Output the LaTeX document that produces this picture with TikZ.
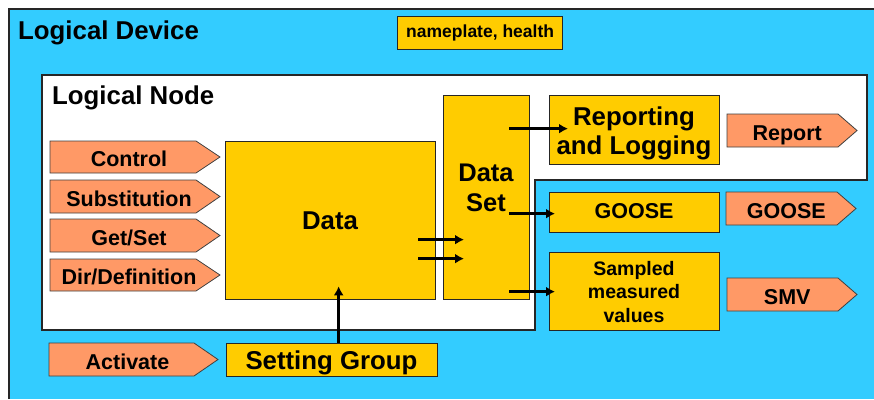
\documentclass[tikz,border=0pt]{standalone}
\usepackage{fontspec}
\setmainfont{Liberation Sans}
\usetikzlibrary{arrows.meta}
\definecolor{ldblue}{HTML}{33CCFF}
\definecolor{boxyel}{HTML}{FFCC00}
\definecolor{sigsal}{HTML}{FF9966}
\tikzset{
  ybox/.style={draw=black!85, line width=1.3pt, fill=boxyel, inner sep=0pt, anchor=north west, align=center},
  sigshape/.style={draw=black!75, line width=0.8pt, fill=sigsal},
  sigtext/.style={font={\bfseries\fontsize{21.5}{24}\selectfont}, inner sep=0pt, anchor=base},
  flow/.style={line width=2.8pt, -{Latex[length=9pt,width=10pt]}},
  fbig/.style={font={\bfseries\fontsize{25.8}{29}\selectfont}},
  fmid/.style={font={\bfseries\fontsize{21.5}{24}\selectfont}},
}
% name, x1, y1, x2, y2, tip, text
\newcommand\sigarrow[7]{%
  \draw[sigshape] (#2,#3) -- ({#4-#6},#3) -- (#4,{(#3+#5)/2}) -- ({#4-#6},#5) -- (#2,#5) -- cycle;
  \node[sigtext] (#1) at ({(#2+#4)/2-#6/4},{(#3+#5)/2+9.7}) {#7};
}
\begin{document}
\begin{tikzpicture}[x=1pt,y=-1pt]
\useasboundingbox (0,0) rectangle (874,399);
% Logical Device
\fill[ldblue] (9,9) rectangle (874,399);
\draw[line width=2pt, black!85] (9,399) -- (9,9) -- (874,9);
\node[fbig, anchor=base west, inner sep=0pt] (ldtitle) at (18,39) {Logical Device};
\node[ybox, minimum width=165pt, minimum height=33pt, font={\bfseries\fontsize{17.5}{20}\selectfont}] (np) at (397,16) {nameplate, health};
% Logical Node
\filldraw[fill=white, draw=black!85, line width=1.5pt] (42,75) -- (867,75) -- (867,180) -- (535,180) -- (535,330) -- (42,330) -- cycle;
\node[fbig, anchor=base west, inner sep=0pt] (lntitle) at (52,104) {Logical Node};
% boxes
\node[ybox, minimum width=210pt, minimum height=158pt] (data) at (225,141) {};
\node[fbig, inner sep=0pt] (datatxt) at (330,221) {Data};
\node[ybox, minimum width=86pt, minimum height=204pt] (ds) at (443,95) {};
\node[fbig, inner sep=0pt, align=center, font={\bfseries\fontsize{25.5}{30}\selectfont}] (dstxt) at (486,188) {Data\\Set};
\node[ybox, minimum width=170pt, minimum height=69pt] (rl) at (549,95) {};
\node[fbig, inner sep=0pt, align=center] (rltxt) at (634,133) {Reporting\\and Logging};
\node[ybox, minimum width=170pt, minimum height=40pt] (goose) at (549,192) {};
\node[fmid, inner sep=0pt, anchor=base] (goosetxt) at (634,218.5) {GOOSE};
\node[ybox, minimum width=170pt, minimum height=78pt] (smv) at (549,252) {};
\node[inner sep=0pt, align=center, font={\bfseries\fontsize{19.5}{23.5}\selectfont}] (smvtxt) at (634,292) {Sampled\\measured\\values};
\node[ybox, minimum width=211pt, minimum height=33pt] (sg) at (226,343) {};
\node[fbig, inner sep=0pt, anchor=base] (sgtxt) at (331.5,369) {Setting Group};
% signal arrows
\sigarrow{sctl}{50}{141}{220}{173}{24}{Control}
\sigarrow{ssub}{50}{180}{220}{213}{24}{Substitution}
\sigarrow{sget}{50}{219}{220}{252}{24}{Get/Set}
\sigarrow{sdir}{50}{259}{220}{291}{24}{Dir/Definition}
\sigarrow{sact}{49}{343}{218}{376}{24}{Activate}
\sigarrow{srep}{727}{114}{857}{147}{19}{Report}
\sigarrow{sgoo}{726}{192}{856}{225}{19}{GOOSE}
\sigarrow{ssmv}{727}{278}{857}{311}{19}{SMV}
% connectors
\coordinate (sgtop) at ([xshift=6.5pt]sg.north);
\draw[flow] (sgtop) -- ([yshift=14pt]sgtop |- data.south);
\coordinate (a1) at ([shift={(-18,19)}]data.east);
\coordinate (a2) at ([shift={(-18,38)}]data.east);
\draw[flow] (a1) -- ([xshift=21pt]a1 -| ds.west);
\draw[flow] (a2) -- ([xshift=21pt]a2 -| ds.west);
\coordinate (b1) at ([shift={(-21,-69)}]ds.east);
\coordinate (b2) at ([shift={(-21,16)}]ds.east);
\coordinate (b3) at ([shift={(-21,94)}]ds.east);
\draw[flow] (b1) -- ([xshift=19pt]b1 -| rl.west);
\draw[flow] (b2) -- ([xshift=6pt]b2 -| goose.west);
\draw[flow] (b3) -- ([xshift=6pt]b3 -| smv.west);
\end{tikzpicture}
\end{document}
